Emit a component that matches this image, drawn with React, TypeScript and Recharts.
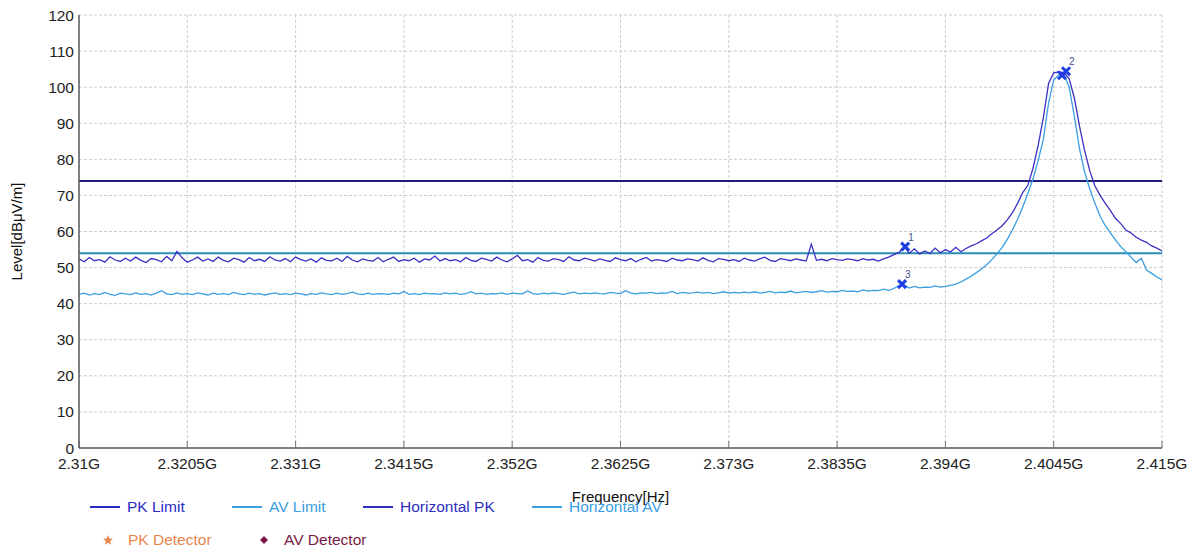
import {
  ComposedChart,
  Line,
  Scatter,
  XAxis,
  YAxis,
  CartesianGrid,
  ReferenceLine,
} from "recharts";

// sweep: 2.31 GHz .. 2.415 GHz, one reading every 0.5 MHz
const START_GHZ = 2.31;
const STEP_GHZ = 0.0005;

const X_TICKS = [2.31, 2.3205, 2.331, 2.3415, 2.352, 2.3625, 2.373, 2.3835, 2.394, 2.4045, 2.415];
const Y_TICKS = [0, 10, 20, 30, 40, 50, 60, 70, 80, 90, 100, 110, 120];

const PK_LIMIT = 74;
const AV_LIMIT = 54;

// Horizontal PK trace, dBµV/m
const HORIZONTAL_PK = [
  52.4, 51.6, 52.8, 51.9, 52.2, 51.5, 53.0, 52.1, 51.7, 52.6,
  51.8, 52.9, 52.0, 51.4, 52.5, 52.2, 51.6, 53.1, 51.9, 54.5,
  52.7, 51.5, 52.1, 52.9, 51.8, 52.4, 51.7, 52.9, 52.0, 51.6,
  52.6, 52.2, 51.5, 52.8, 51.9, 52.3, 51.7, 53.0, 52.1, 51.8,
  52.5, 51.6, 52.9, 52.2, 51.8, 52.4, 51.5, 52.7, 52.0, 51.9,
  52.6, 51.7, 53.1, 52.1, 51.6, 52.4, 52.0, 51.8, 52.8, 51.6,
  52.3, 52.9, 51.7, 52.2, 51.9, 52.6, 51.5, 52.4, 52.1, 53.2,
  51.8, 52.5, 51.9, 52.2, 51.6, 52.8, 52.0, 51.7, 52.6, 52.3,
  51.8, 52.9, 52.1, 51.6, 52.4, 53.4, 51.9, 52.2, 51.5, 52.8,
  52.0, 51.8, 52.5, 52.2, 51.7, 53.0, 52.1, 51.9, 52.6, 52.3,
  51.8, 52.4, 52.0, 51.7, 52.7, 52.2, 51.9, 52.5, 51.6, 52.3,
  52.8, 51.8, 52.2, 52.0, 51.7, 52.6, 52.1, 51.9, 52.4, 52.2,
  51.8, 52.7, 52.0, 51.6, 52.5, 52.3, 51.9, 52.2, 51.7, 52.6,
  52.1, 51.8, 52.4, 52.9, 52.0, 51.7, 52.5, 52.2, 51.9, 52.4,
  52.1, 51.8, 56.5, 52.0, 52.3, 51.9, 52.5, 52.2, 52.0, 52.4,
  52.2, 51.9, 52.5, 52.1, 52.3, 51.8, 52.4, 52.9, 53.6, 54.2,
  55.8, 54.0, 55.2, 53.8, 54.6, 53.9, 55.4, 54.1, 55.0, 54.3,
  55.6, 54.4, 55.3, 56.0, 56.6, 57.4, 58.2, 59.4, 60.4, 61.6,
  63.2, 65.2, 67.8, 70.8, 72.8, 77.6, 84.0, 91.6, 101.0, 104.0,
  104.2, 104.0, 102.4, 97.0, 89.2, 82.4, 76.8, 72.6, 70.0, 67.8,
  65.8, 63.6, 62.2, 60.4, 59.6, 58.4, 57.6, 57.0, 56.0, 55.4,
  54.6,
];

// Horizontal AV trace, dBµV/m
const HORIZONTAL_AV = [
  42.6, 42.9, 42.4, 42.8, 42.5, 43.1, 42.6, 42.3, 42.9, 42.7,
  42.5, 43.0, 42.6, 42.8, 42.4, 42.9, 43.6, 42.7, 42.5, 43.0,
  42.6, 42.8, 42.5, 43.0, 42.7, 42.4, 42.9, 42.6, 42.8, 42.5,
  43.1, 42.7, 42.5, 42.9, 42.6, 42.8, 42.4, 42.7, 43.0, 42.6,
  42.8, 42.5, 42.9, 42.7, 42.4, 42.8, 42.6, 43.0, 42.7, 42.5,
  42.9, 42.6, 42.8, 43.2, 42.7, 42.5, 42.9, 42.6, 42.8, 42.7,
  42.6, 42.9, 42.7, 43.4, 42.6, 42.8, 42.5, 42.9, 42.7, 42.8,
  42.6, 43.0, 42.7, 42.9, 42.6, 42.8, 43.3, 42.7, 42.9, 42.6,
  42.8, 42.7, 43.0, 42.6, 42.9, 42.8, 42.7, 43.5, 42.8, 42.6,
  42.9, 42.7, 43.0, 42.8, 42.6, 42.9, 43.2, 42.7, 42.9, 42.8,
  43.0, 42.8, 42.7, 43.1, 42.9, 42.8, 43.6, 42.9, 42.7, 43.0,
  42.9, 43.1, 42.8, 43.0, 42.9, 43.4, 42.8, 43.1, 42.9, 43.0,
  43.2, 42.9, 43.1, 42.8, 43.0, 43.3, 42.9, 43.1, 43.0, 43.2,
  43.0, 43.3, 42.9, 43.1, 43.4, 43.0, 43.2, 43.1, 43.5, 43.0,
  43.2, 43.4, 43.1, 43.3, 43.6, 43.2, 43.4, 43.3, 43.7, 43.4,
  43.5, 43.3, 43.8, 43.5, 43.7, 43.6, 44.0, 43.7, 44.2, 45.0,
  45.2, 44.3, 44.8, 44.4, 44.6, 44.5, 44.9, 44.6, 44.8, 45.1,
  45.4, 46.0, 46.8, 47.6, 48.6, 49.6, 50.8, 52.2, 53.8, 55.6,
  57.8, 60.4, 63.4, 66.8, 70.6, 74.6, 79.8, 85.6, 95.6, 102.0,
  103.4, 103.6, 100.0, 92.0, 83.0, 76.4, 71.8, 67.8, 64.2, 61.6,
  59.6, 57.6, 55.8, 54.4, 52.9, 51.4, 52.6, 49.3, 48.4, 47.4,
  46.6,
];

const MARKERS = [
  { id: "1", freq: 2.3901, level: 55.8 },
  { id: "3", freq: 2.3898, level: 45.4 },
  { id: "", freq: 2.4053, level: 103.3 },
  { id: "2", freq: 2.4057, level: 104.4 },
];

const LINE_ITEMS = [
  { name: "PK Limit", color: "#2a2ac8" },
  { name: "AV Limit", color: "#3a9ee0" },
  { name: "Horizontal PK", color: "#2e2ebd" },
  { name: "Horizontal AV", color: "#3a9ee0" },
];
const DETECTOR_ITEMS = [
  { name: "PK Detector", color: "#e8864e", shape: "star" },
  { name: "AV Detector", color: "#7a1a46", shape: "diamond" },
];

const data = HORIZONTAL_PK.map((pk, i) => ({
  freq: START_GHZ + i * STEP_GHZ,
  pk,
  av: HORIZONTAL_AV[i],
}));

const FONT = "'Liberation Sans', Arial, sans-serif";

const MarkerShape = (props: any) => {
  const { cx, cy, payload } = props;
  const s = 4;
  return (
    <g>
      <line x1={cx - s} y1={cy - s} x2={cx + s} y2={cy + s} stroke="#1f3fe0" strokeWidth={3} />
      <line x1={cx - s} y1={cy + s} x2={cx + s} y2={cy - s} stroke="#1f3fe0" strokeWidth={3} />
      {payload.id && (
        <text x={cx + 3} y={cy - 6} fontSize={10} fill="#4a4f8a">
          {payload.id}
        </text>
      )}
    </g>
  );
};

const ROW1_LEFT = [90, 232, 363, 532];
const ROW2_LEFT = [102, 258];

function ChartLegend() {
  return (
    <div style={{ position: "absolute", left: 0, top: 0, fontSize: 15.5 }}>
      {LINE_ITEMS.map((it, i) => (
        <div
          key={it.name}
          style={{ position: "absolute", left: ROW1_LEFT[i], top: 498, display: "flex", alignItems: "center", whiteSpace: "nowrap", color: it.color }}
        >
          <span style={{ display: "inline-block", width: 30, height: 1.5, background: it.color, marginRight: 7 }} />
          {it.name}
        </div>
      ))}
      {DETECTOR_ITEMS.map((it, i) => (
        <div
          key={it.name}
          style={{ position: "absolute", left: ROW2_LEFT[i], top: 531, display: "flex", alignItems: "center", whiteSpace: "nowrap", color: it.color }}
        >
          <svg width={12} height={12} style={{ marginRight: 14 }}>
            {it.shape === "star" ? (
              <polygon
                points="6,1 7.4,4.6 11,4.8 8.2,7.1 9.1,10.8 6,8.8 2.9,10.8 3.8,7.1 1,4.8 4.6,4.6"
                fill={it.color}
              />
            ) : (
              <polygon points="6,2 10,6 6,10 2,6" fill={it.color} />
            )}
          </svg>
          {it.name}
        </div>
      ))}
    </div>
  );
}

export default function App() {
  return (
    <div
      style={{ position: "absolute", left: 0, top: 0, width: 1196, height: 552, background: "#fff", fontFamily: FONT }}
    >
      <ComposedChart width={1196} height={552} data={data} margin={{ top: 15, right: 34, left: 0, bottom: 0 }}>
        <CartesianGrid stroke="#cccccc" strokeDasharray="3 2" />
        <XAxis
          dataKey="freq"
          type="number"
          domain={[2.31, 2.415]}
          ticks={X_TICKS}
          interval={0}
          tickFormatter={(v: number) => `${v}G`}
          height={104}
          tickSize={-7}
          tickMargin={17}
          tick={{ fill: "#222", fontSize: 15.5 }}
          axisLine={{ stroke: "#5a5a5a", strokeWidth: 1.5 }}
          tickLine={{ stroke: "#777" }}
          label={{ value: "Frequency[Hz]", position: "insideTop", offset: 43, fill: "#111", fontSize: 15 }}
        />
        <YAxis
          type="number"
          domain={[0, 120]}
          ticks={Y_TICKS}
          interval={0}
          width={79}
          tickSize={0}
          tickMargin={5}
          tickLine={false}
          tick={{ fill: "#222", fontSize: 15.5 }}
          axisLine={{ stroke: "#5a5a5a", strokeWidth: 1.5 }}
          label={{
            value: "Level[dBμV/m]",
            angle: -90,
            position: "insideLeft",
            offset: 17,
            fill: "#111",
            fontSize: 15,
            style: { textAnchor: "middle" },
          }}
        />
        <ReferenceLine y={PK_LIMIT} stroke="#1e1e78" strokeWidth={2} />
        <ReferenceLine y={AV_LIMIT} stroke="#2a8cb6" strokeWidth={2} />
        <Line
          type="linear"
          dataKey="av"
          stroke="#3a9ee0"
          strokeWidth={1.3}
          dot={false}
          isAnimationActive={false}
        />
        <Line
          type="linear"
          dataKey="pk"
          stroke="#3a30c2"
          strokeWidth={1.3}
          dot={false}
          isAnimationActive={false}
        />
        <Scatter data={MARKERS} dataKey="level" shape={MarkerShape} isAnimationActive={false} />
      </ComposedChart>
      <ChartLegend />
    </div>
  );
}
